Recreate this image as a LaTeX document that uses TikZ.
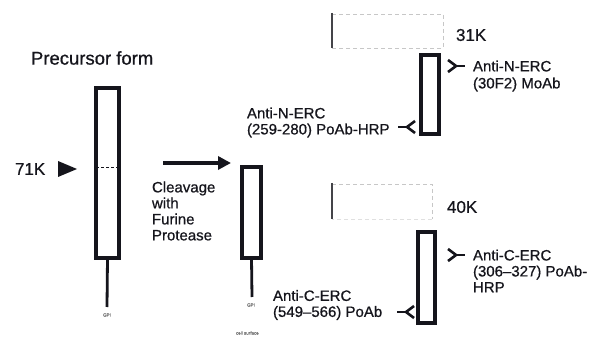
\documentclass[tikz,border=0pt]{standalone}
\usepackage{fontspec}
\setmainfont{Liberation Sans}[FakeBold=0.7]
\usetikzlibrary{arrows.meta}
\definecolor{ink}{HTML}{15151C}
\tikzset{
  x=1pt, y=-1pt,
  every node/.style={text=ink, inner sep=0pt, outer sep=0pt},
  lbl/.style={anchor=west, align=left, font=\fontsize{15}{16}\selectfont},
  big/.style={anchor=west, font=\fontsize{17}{18}\selectfont},
  bar/.style={draw=ink, line width=3.2pt, fill=white, rectangle},
  stem/.style={draw=ink, line width=2.8pt},
  faint/.style={draw=black!22, line width=0.8pt, dash pattern=on 4pt off 3pt},
  faintleft/.style={draw=ink!80, line width=1.1pt},
  abline/.style={draw=ink, line width=2.6pt, line join=miter},
  tiny/.style={font=\fontsize{4.5}{5}\selectfont, text=black!55},
  abR/.pic={\draw[abline] (0,-6) -- (8,0) -- (0,6); \draw[abline] (8,0) -- (17,0);},
  abL/.pic={\draw[abline] (0,-6) -- (-8,0) -- (0,6); \draw[abline] (-8,0) -- (-17,0);}
}
\begin{document}
\begin{tikzpicture}
\useasboundingbox[fill=white] (0,0) rectangle (603,342);

% precursor form
\node[big, font=\fontsize{18.5}{20}\selectfont] (title) at (31,58) {Precursor form};
\node[bar, minimum width=23pt, minimum height=170pt] (pre) at (107.5,173) {};
\draw[ink, line width=0.8pt, dash pattern=on 3pt off 2pt] ([yshift=6pt]pre.west) -- ([yshift=6pt]pre.east);
\coordinate (preend) at (107,307);
\draw[stem] (pre.south) -- (preend);
\node[tiny] (pretag) at (107,315) {GPI};
\node[big] (k71) at (15,169) {71K};

% 71K marker triangle
\fill[ink] (58,161) -- (77,169) -- (58,177) -- cycle;

% cleavage arrow
\coordinate (arrA) at (163,163);
\coordinate (arrB) at (231,163);
\draw[ink, line width=4pt, -{Triangle[length=13pt,width=13pt]}] (arrA) -- (arrB);
\node[lbl] (cleave) at (152,211) {Cleavage\\with\\Furine\\Protease};

% middle bar
\node[bar, minimum width=19pt, minimum height=91pt] (mid) at (251.5,212.5) {};
\coordinate (midend) at (252,297);
\draw[stem] (mid.south) -- (midend);
\node[tiny] (midtag) at (251,305) {GPI};
\node[tiny, anchor=west] (memb) at (236,333) {cell surface};

% top right: 31K
\draw[faint] (332,14) -- (443,14) -- (443,48) -- (332,48);
\draw[faintleft] (332,13) -- (332,48);
\node[big] (k31) at (456,35) {31K};
\node[bar, minimum width=18pt, minimum height=79pt] (top) at (430,94.5) {};
\pic at (448,66) {abR};
\node[lbl, font=\fontsize{15}{17}\selectfont] (nmoab) at (473,76) {Anti-N-ERC\\(30F2) MoAb};
\pic at (415,127) {abL};
\node[lbl] (npoab) at (247,122.5) {Anti-N-ERC\\(259-280) PoAb-HRP};

% bottom right: 40K
\draw[faint] (332,184) -- (432,184) -- (432,219);
\draw[faint, draw=black!12] (432,219) -- (332,219);
\draw[faintleft] (332,183) -- (332,219);
\node[big] (k40) at (447,207) {40K};
\node[bar, minimum width=17pt, minimum height=91pt] (bot) at (426.5,277.5) {};
\pic at (448,255) {abR};
\node[lbl] (cpoabr) at (473,271) {Anti-C-ERC\\(306–327) PoAb-\\HRP};
\pic at (414,312) {abL};
\node[lbl] (cpoabl) at (273,305) {Anti-C-ERC\\(549–566) PoAb};
\end{tikzpicture}
\end{document}
